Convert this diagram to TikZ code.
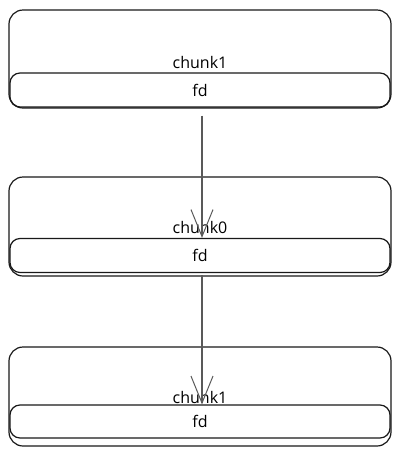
\documentclass[tikz,border=0pt]{standalone}
\usepackage{fontspec}
\setmainfont{Open Sans}
\usetikzlibrary{arrows.meta}
\begin{document}
\begin{tikzpicture}[x=1pt,y=-1pt,
  outer/.style={draw=black!90, line width=1.2pt, rounded corners=14pt, minimum width=382pt, minimum height=98pt, inner sep=0pt},
  strip/.style={draw=black!90, line width=1.2pt, rounded corners=10pt, minimum width=380pt, minimum height=34pt, inner sep=0pt, font=\fontsize{16}{18}\selectfont},
  lbl/.style={font=\fontsize{16}{18}\selectfont, inner sep=0pt},
  link/.style={draw=black!65, line width=1.2pt, -{Straight Barb[length=27pt,width=22pt,line width=1pt]}}]
\useasboundingbox (0,0) rectangle (401,456);
% box 1
\node[outer] (box1) at (200,59) {};
\node[strip] (fd1) at (200,90) {fd};
\node[lbl] (c1) at (200,62) {chunk1};
% box 2
\node[outer, minimum height=99pt] (box2) at (200,226.5) {};
\node[strip] (fd2) at (200,255.5) {fd};
\node[lbl] (c2) at (200,227) {chunk0};
% box 3
\node[outer, minimum height=99pt] (box3) at (200,396.5) {};
\node[strip, minimum height=33pt] (fd3) at (200,421.5) {fd};
\node[lbl] (c3) at (200,397) {chunk1};
% arrows
\draw[link] ([xshift=2pt,yshift=-8pt]fd1.south) -- ([xshift=2pt]fd2.north);
\draw[link] ([xshift=2pt,yshift=-2pt]fd2.south) -- ([xshift=2pt]fd3.north);
\end{tikzpicture}
\end{document}
